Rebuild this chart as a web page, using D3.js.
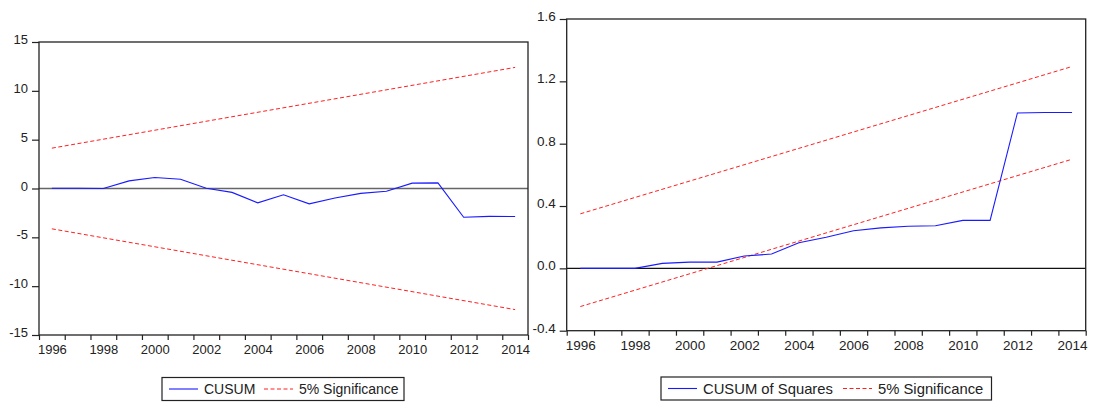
<!DOCTYPE html>
<meta charset="utf-8">
<style>
body { margin: 0; background: #fff; }
text { font-family: "Liberation Sans", Arial, sans-serif; font-size: 13px; fill: #222; }
.axis path { display: none; }
.axis line { stroke: #222; stroke-width: 1.2; }
.frame { fill: none; stroke: #222; stroke-width: 1.3; }
</style>
<body>
<script src="https://cdn.jsdelivr.net/npm/d3@7"></script>
<script>

// data
var years = d3.range(1996, 2015);
var cusum = [0.02, 0.03, 0.0, 0.78, 1.12, 0.95, 0.03, -0.4, -1.47, -0.65, -1.57, -0.98, -0.5, -0.28, 0.55, 0.58, -2.95, -2.85, -2.87];
var cusumSq = [0, 0, 0, 0.032, 0.04, 0.04, 0.079, 0.092, 0.164, 0.2, 0.241, 0.26, 0.27, 0.273, 0.308, 0.308, 0.997, 1.0, 1.0];

// 5% bands are straight lines, endpoints only
var bandYears = [1996, 2014];
var cusumUpper = [4.13, 12.4];
var cusumLower = [-4.13, -12.4];
var sqUpper = [0.35, 1.295];
var sqLower = [-0.245, 0.70];

var cusumTicks = [-15, -10, -5, 0, 5, 10, 15];
var sqTicks = [-0.4, 0.0, 0.4, 0.8, 1.2, 1.6];
var yearLabels = [1996, 1998, 2000, 2002, 2004, 2006, 2008, 2010, 2012, 2014];
var yearBounds = d3.range(1995.5, 2015, 1);

var width = 1094,
    height = 403;

var svg = d3.select("body").append("svg")
    .attr("width", width)
    .attr("height", height);

// plain hyphen for negatives, like the original
function hy(f) {
  return function(d) { return f(d).replace("\u2212", "-"); };
}

function panel(opt) {
  var x = d3.scaleLinear().domain([1995.5, 2014.5]).range([opt.x0, opt.x1]);
  var y = d3.scaleLinear().domain(opt.ydom).range([opt.y1, opt.y0]);

  var g = svg.append("g");

  // zero line
  g.append("line")
      .attr("x1", opt.x0).attr("x2", opt.x1)
      .attr("y1", y(0)).attr("y2", y(0))
      .attr("stroke", opt.zeroColor)
      .attr("stroke-width", opt.zeroWidth);

  var line = d3.line()
      .x(function(d) { return x(d[0]); })
      .y(function(d) { return y(d[1]); });

  [opt.upper, opt.lower].forEach(function(b) {
    g.append("path")
        .datum(d3.zip(bandYears, b))
        .attr("d", line)
        .attr("fill", "none")
        .attr("stroke", "#ff2020")
        .attr("stroke-width", 1)
        .attr("stroke-dasharray", "4,2.5");
  });

  g.append("path")
      .datum(d3.zip(years, opt.values))
      .attr("d", line)
      .attr("fill", "none")
      .attr("stroke", "#1a1aff")
      .attr("stroke-width", 1.1);

  // y axis
  var ya = g.append("g")
      .attr("class", "axis")
      .attr("transform", "translate(" + opt.x0 + ",0)")
      .call(d3.axisLeft(y).tickValues(opt.yticks).tickSize(7).tickPadding(4).tickFormat(hy(opt.yfmt)));
  ya.selectAll("text").attr("dy", "0.12em").style("font-size", opt.fs + "px");

  // x axis: tick marks between years, labels under the years
  g.append("g")
      .attr("class", "axis")
      .attr("transform", "translate(0," + opt.y1 + ")")
      .call(d3.axisBottom(x).tickValues(yearBounds).tickSize(5).tickFormat(""));
  var xa = g.append("g")
      .attr("class", "axis")
      .attr("transform", "translate(0," + opt.y1 + ")")
      .call(d3.axisBottom(x).tickValues(yearLabels).tickSize(0).tickPadding(10).tickFormat(d3.format("d")));
  xa.selectAll("line").remove();
  xa.selectAll("text").style("font-size", opt.fs + "px");

  g.append("rect")
      .attr("class", "frame")
      .attr("x", opt.x0).attr("y", opt.y0)
      .attr("width", opt.x1 - opt.x0).attr("height", opt.y1 - opt.y0);

  // legend
  var lg = g.append("g");
  lg.append("rect")
      .attr("x", opt.lx0).attr("y", opt.ly0)
      .attr("width", opt.lx1 - opt.lx0).attr("height", 23)
      .attr("fill", "none").attr("stroke", "#222").attr("stroke-width", 1.2);
  var ly = opt.ly0 + 11.5;
  lg.append("line")
      .attr("x1", opt.lx0 + 7).attr("x2", opt.lx0 + 36)
      .attr("y1", ly).attr("y2", ly)
      .attr("stroke", "#1a1aff").attr("stroke-width", 1.1);
  lg.append("text")
      .attr("x", opt.lx0 + 42).attr("y", ly + 5)
      .style("font-size", opt.lfs + "px")
      .text(opt.name);
  lg.append("line")
      .attr("x1", opt.rx).attr("x2", opt.rx + 29)
      .attr("y1", ly).attr("y2", ly)
      .attr("stroke", "#ff2020").attr("stroke-width", 1)
      .attr("stroke-dasharray", "4,2.5");
  lg.append("text")
      .attr("x", opt.rx + 35).attr("y", ly + 5)
      .style("font-size", opt.lfs + "px")
      .text("5% Significance");
}

panel({
  x0: 39, x1: 528, y0: 42, y1: 335,
  ydom: [-15, 15], yticks: cusumTicks, yfmt: d3.format("d"),
  values: cusum, upper: cusumUpper, lower: cusumLower,
  zeroColor: "#666", zeroWidth: 1.4, fs: 13,
  lx0: 162, lx1: 404, ly0: 377.5, rx: 264, lfs: 14,
  name: "CUSUM"
});

panel({
  x0: 566.7, x1: 1085.7, y0: 19, y1: 330.7,
  ydom: [-0.4, 1.6], yticks: sqTicks, yfmt: d3.format(".1f"),
  values: cusumSq, upper: sqUpper, lower: sqLower,
  zeroColor: "#111", zeroWidth: 1.1, fs: 13.5,
  lx0: 661, lx1: 991.5, ly0: 377, rx: 843, lfs: 14.8,
  name: "CUSUM of Squares"
});

</script>
</body>
